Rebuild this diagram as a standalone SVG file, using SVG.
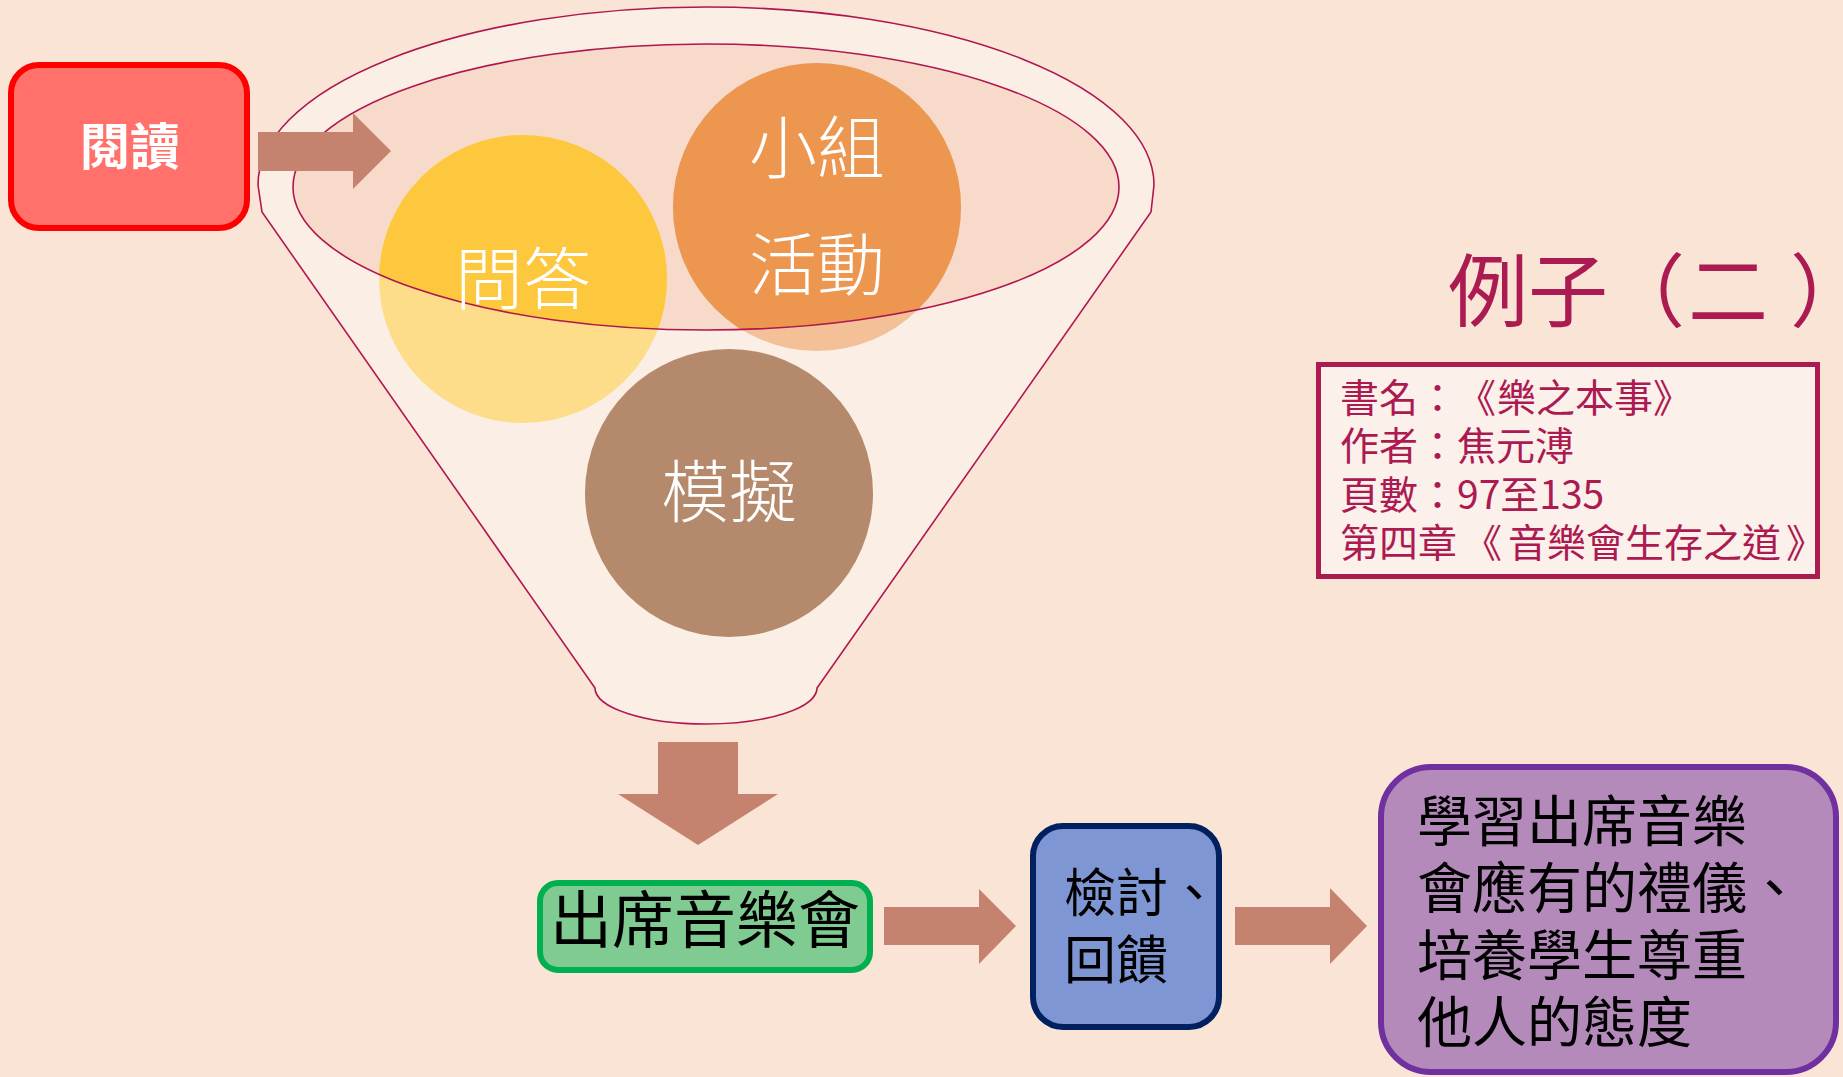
<svg xmlns="http://www.w3.org/2000/svg" width="1843" height="1077" viewBox="0 0 1843 1077">
<defs>
<style>
.cjk{font-family:"Noto Sans CJK TC","Noto Sans CJK SC",sans-serif;text-spacing-trim:space-all;}
.w{fill:#FFFFFF;font-weight:300;}
.k{fill:#000000;}
.cr{fill:#AC1A52;}
.arrow{fill:#C5826F;}
.line{fill:none;stroke:#B0174F;stroke-width:1.6;}
</style>
<clipPath id="innerClip"><ellipse cx="706" cy="187" rx="413" ry="143"/></clipPath>
</defs>
<rect width="1843" height="1077" fill="#FAE4D6"/>

<g id="funnel">
<path d="M258,185 A448,178 0 0 1 1154,185 L1151,212 L817,688 A111,36 0 0 1 595,688 L262,212 Z" fill="#FBEEE5" stroke="#B0174F" stroke-width="1.6"/>
<ellipse cx="706" cy="187" rx="413" ry="143" fill="#F7DACA"/>
</g>

<g id="node-wenda">
<circle cx="523" cy="279" r="144" fill="#FDDC8A"/>
<circle cx="523" cy="279" r="144" fill="#FDC73E" clip-path="url(#innerClip)"/>
</g>
<g id="node-xiaozu">
<circle cx="817" cy="207" r="144" fill="#F3C098"/>
<circle cx="817" cy="207" r="144" fill="#EC9650" clip-path="url(#innerClip)"/>
</g>
<g id="node-moni">
<circle cx="729" cy="493" r="144" fill="#B5896B"/>
</g>
<ellipse cx="706" cy="187" rx="413" ry="143" class="line"/>

<g id="labels-funnel" class="cjk w" font-size="68" text-anchor="middle">
<text x="523" y="304">問答</text>
<text x="817" y="173">小組</text>
<text x="817" y="290">活動</text>
<text x="729" y="517">模擬</text>
</g>

<g id="node-yuedu">
<rect x="11" y="65" width="236" height="163" rx="28" fill="#FF716A" stroke="#FF0000" stroke-width="6"/>
<text x="130" y="165" class="cjk" fill="#FFFFFF" font-size="50" font-weight="700" text-anchor="middle">閱讀</text>
</g>

<g id="connectors">
<polygon class="arrow" points="258,132 353,132 353,113 391,151 353,189 353,171 258,171"/>
<polygon class="arrow" points="658,742 738,742 738,794 778,794 698,845 618,794 658,794"/>
<polygon class="arrow" points="884,907 979,907 979,889 1016,926 979,964 979,945 884,945"/>
<polygon class="arrow" points="1235,907 1330,907 1330,888 1367,926 1330,964 1330,945 1235,945"/>
</g>

<g id="title" class="cjk cr" font-size="80">
<text x="1448" y="320">例子</text>
<text x="1645" y="320" text-anchor="middle">（</text>
<text x="1688" y="320">二</text>
<text x="1790" y="320" style="font-feature-settings:'halt' 1">）</text>
</g>

<g id="node-info">
<rect x="1318.5" y="364.5" width="499" height="212" fill="#FCF0EA" stroke="#AC1A52" stroke-width="5"/>
<g class="cjk cr" font-size="39">
<text x="1340 1379 1418 1457 1497 1536 1575 1614 1653" y="412">書名：《樂之本事》</text>
<text x="1340 1379 1418 1457 1496 1535" y="460">作者：焦元溥</text>
<text x="1340 1379 1418 1457" y="509">頁數：97至135</text>
<text x="1340 1379 1418 1450 1463 1508 1547 1586 1625 1664 1703 1742 1786" y="557">第四章 《音樂會生存之道》</text>
</g>
</g>

<g id="node-concert">
<rect x="540" y="883" width="330" height="87" rx="18" fill="#7FCB92" stroke="#00B050" stroke-width="6"/>
<text x="705" y="943" class="cjk k" font-size="62" text-anchor="middle">出席音樂會</text>
</g>

<g id="node-review">
<rect x="1033" y="826" width="186" height="201" rx="30" fill="#7F96D4" stroke="#002060" stroke-width="6"/>
<g class="cjk k" font-size="52">
<text x="1064" y="912">檢討、</text>
<text x="1064" y="979">回饋</text>
</g>
</g>

<g id="node-goal">
<rect x="1381" y="767" width="455" height="305" rx="50" fill="#B48ABB" stroke="#7030A0" stroke-width="6"/>
<g class="cjk k" font-size="55">
<text x="1417" y="841">學習出席音樂</text>
<text x="1417" y="908">會應有的禮儀、</text>
<text x="1417" y="975">培養學生尊重</text>
<text x="1417" y="1042">他人的態度</text>
</g>
</g>
</svg>
